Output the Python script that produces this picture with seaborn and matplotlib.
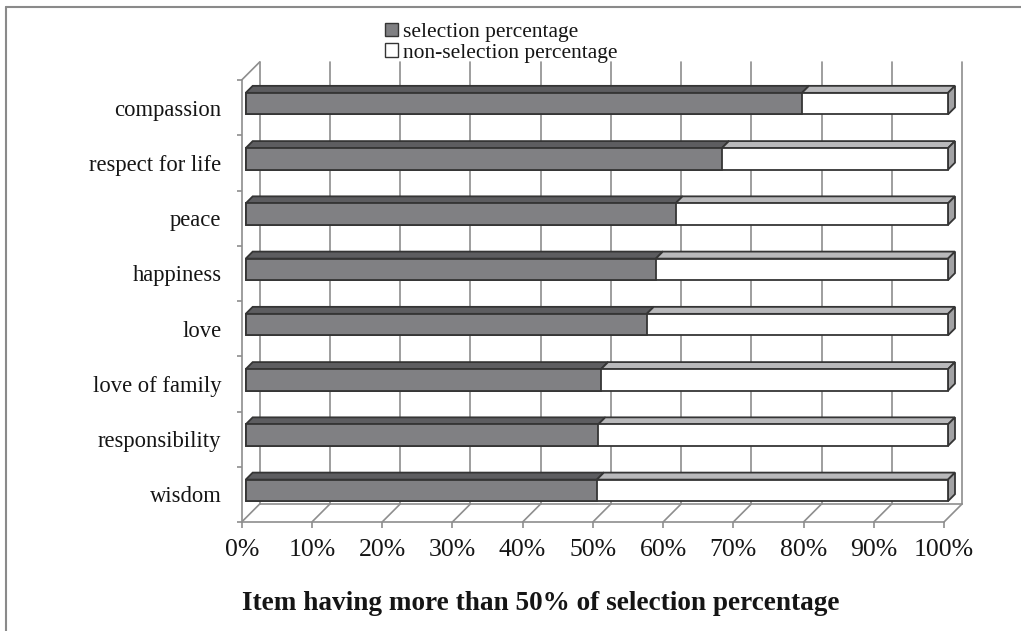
import numpy as np
import pandas as pd
import matplotlib
matplotlib.use("Agg")
import matplotlib.pyplot as plt
import seaborn as sns
from matplotlib.transforms import ScaledTranslation
from matplotlib.patches import Polygon, Patch
from matplotlib.lines import Line2D

# ---------------- data ----------------
items = ["compassion", "respect for life", "peace", "happiness", "love",
         "love of family", "responsibility", "wisdom"]
selection = [79.2, 67.8, 61.2, 58.4, 57.1, 50.6, 50.2, 50.0]
non_selection = [20.8, 32.2, 38.8, 41.6, 42.9, 49.4, 49.8, 50.0]
xticks = [0, 10, 20, 30, 40, 50, 60, 70, 80, 90, 100]
xtick_labels = ["0%", "10%", "20%", "30%", "40%", "50%", "60%", "70%", "80%", "90%", "100%"]
legend_labels = ["selection percentage", "non-selection percentage"]
title = "Item having more than 50% of selection percentage"

# ---------------- style ----------------
sns.set_theme(style="white")
plt.rcParams["font.family"] = ["Liberation Serif", "DejaVu Serif"]

SEL_FRONT = "#808083"
SEL_TOP = "#5d5d60"
NON_FRONT = "#ffffff"
NON_TOP = "#b9b9bb"
SIDE = "#a2a2a4"
EDGE = "#353535"
GRID = "#8e8e8e"
TXT = "#151515"
LW_EDGE = 1.3
LW_GRID = 1.2

W, H = 1021, 631
fig = plt.figure(figsize=(W / 100, H / 100), dpi=100)
ax = fig.add_axes([241.7 / W, (H - 522) / H, (944 - 241.7) / W, (522 - 80) / H])

df = pd.DataFrame({"item": items, "sel": selection, "non": non_selection})
df["total"] = df["sel"] + df["non"]

bar_w = 0.39
sns.barplot(data=df, y="item", x="total", order=items, color=NON_FRONT,
            saturation=1, width=bar_w, edgecolor=EDGE, linewidth=LW_EDGE,
            errorbar=None, orient="h", ax=ax, zorder=4)
sns.barplot(data=df, y="item", x="sel", order=items, color=SEL_FRONT,
            saturation=1, width=bar_w, edgecolor=EDGE, linewidth=LW_EDGE,
            errorbar=None, orient="h", ax=ax, zorder=5)

ax.set_xlim(0, 100)
ax.set_ylim(len(items) - 0.5, -0.5)
ax.set_xlabel("")
ax.set_ylabel("")

# depth geometry (pixels)
B = 4.0    # bar front offset into depth
DB = 7.0   # bar depth
D = 18.0   # wall depth

off_front = ScaledTranslation(B / 100, B / 100, fig.dpi_scale_trans)
for p in ax.patches:
    p.set_transform(ax.transData + off_front)
    p.set_clip_on(False)

inv = ax.transData.inverted()


def shift(x, y, o):
    X, Y = ax.transData.transform((x, y))
    return tuple(inv.transform((X + o, Y + o)))


def add_poly(pts, fc, z, ec=EDGE, lw=LW_EDGE):
    ax.add_patch(Polygon(pts, closed=True, facecolor=fc, edgecolor=ec,
                         linewidth=lw, zorder=z, clip_on=False,
                         joinstyle="miter"))


# 3D tops and sides of bars
for i, (s, n) in enumerate(zip(selection, non_selection)):
    y_top = i - bar_w / 2
    y_bot = i + bar_w / 2
    total = s + n
    for x0, x1, fc in [(0, s, SEL_TOP), (s, total, NON_TOP)]:
        add_poly([shift(x0, y_top, B), shift(x1, y_top, B),
                  shift(x1, y_top, B + DB), shift(x0, y_top, B + DB)], fc, 3)
    add_poly([shift(total, y_top, B), shift(total, y_bot, B),
              shift(total, y_bot, B + DB), shift(total, y_top, B + DB)], SIDE, 3)

# walls
y_floor = len(items) - 0.5
y_ceil = -0.5
for xt in xticks:
    ax.add_line(Line2D(*zip(shift(xt, y_floor, D), shift(xt, y_ceil, D)),
                       color=GRID, lw=LW_GRID, zorder=1, clip_on=False))
    ax.add_line(Line2D(*zip((xt, y_floor), shift(xt, y_floor, D)),
                       color=GRID, lw=LW_GRID, zorder=1, clip_on=False))
ax.add_line(Line2D(*zip(shift(0, y_floor, D), shift(100, y_floor, D)),
                   color=GRID, lw=LW_GRID, zorder=1, clip_on=False))
ax.add_line(Line2D(*zip((0, y_ceil), shift(0, y_ceil, D)),
                   color=GRID, lw=LW_GRID, zorder=1, clip_on=False))

# spines (front edges)
for side in ["top", "right"]:
    ax.spines[side].set_visible(False)
for side in ["left", "bottom"]:
    ax.spines[side].set_color(GRID)
    ax.spines[side].set_linewidth(LW_GRID)
    ax.spines[side].set_zorder(1)

ax.set_xticks(xticks)
ax.set_xticklabels(xtick_labels, fontsize=18.5)
ax.tick_params(axis="x", direction="out", length=4.5, width=LW_GRID,
               color=GRID, pad=8, bottom=True)
ax.set_yticks(range(len(items)))
ax.set_yticklabels(items, fontsize=16.3)
ax.tick_params(axis="y", which="major", length=0, pad=14.5)
ax.set_yticks(np.arange(-0.5, len(items), 1.0), minor=True)
ax.tick_params(axis="y", which="minor", direction="out", length=3.8,
               width=LW_GRID, color=GRID, left=True)
ax.set_facecolor("none")
for lab in ax.get_xticklabels() + ax.get_yticklabels():
    lab.set_color(TXT)

# legend
handles = [Patch(facecolor=SEL_FRONT, edgecolor=EDGE, linewidth=1.0),
           Patch(facecolor="white", edgecolor=EDGE, linewidth=1.0)]
fig.legend(handles, legend_labels, loc="upper left",
           bbox_to_anchor=(374 / W, 1 - 12 / H), frameon=False,
           fontsize=15.5, handlelength=0.6, handleheight=0.6,
           handletextpad=0.25, labelspacing=0.05, borderpad=0,
           labelcolor=TXT)

# title (below chart)
fig.text(541 / W, 1 - 604 / H, title, ha="center", va="center",
         fontsize=19.6, fontweight="bold", color=TXT)

# figure frame (left and top edges)
fig.add_artist(Line2D([6 / W, 6 / W], [0, 1 - 7 / H], transform=fig.transFigure,
                      color="#8a8a8a", lw=1.5))
fig.add_artist(Line2D([6 / W, 1], [1 - 7 / H, 1 - 7 / H], transform=fig.transFigure,
                      color="#8a8a8a", lw=1.5))

fig.savefig("out.png", dpi=100, facecolor="white")
